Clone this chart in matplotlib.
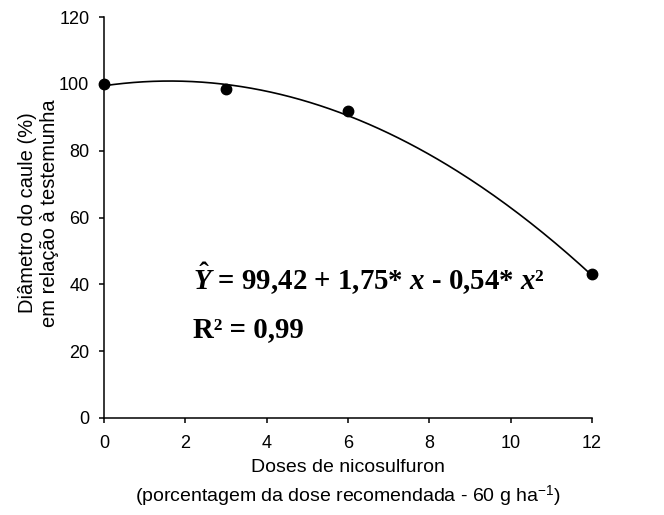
import matplotlib
matplotlib.use('Agg')
import matplotlib.pyplot as plt
import numpy as np

# doses (% of recommended dose) and stem diameter (% of control)
doses = [0, 3, 6, 12]
diameter = [100, 98.5, 92, 43]
coef = [99.42, 1.75, -0.54]

plt.rcParams['font.family'] = ['Liberation Sans', 'DejaVu Sans']
plt.rcParams['mathtext.fontset'] = 'custom'
plt.rcParams['mathtext.rm'] = 'Liberation Serif:bold'
plt.rcParams['mathtext.it'] = 'Liberation Serif:bold:italic'
plt.rcParams['mathtext.bf'] = 'Liberation Serif:bold'
plt.rcParams['mathtext.sf'] = 'Liberation Sans'

W, H = 664, 515
fig = plt.figure(figsize=(W / 100, H / 100), dpi=100)
ax = fig.add_axes([104 / W, 1 - 418 / H, 488 / W, 401 / H])

xs = np.linspace(0, 12, 200)
ys = coef[0] + coef[1] * xs + coef[2] * xs ** 2
ax.plot(xs, ys, color='black', lw=1.2, clip_on=False)
ax.plot(doses, diameter, 'o', color='black', ms=7.5, clip_on=False, zorder=3)

ax.set_xlim(0, 12)
ax.set_ylim(0, 120)
ax.set_xticks(range(0, 13, 2))
ax.set_yticks(range(0, 121, 20))
for s in ['top', 'right']:
    ax.spines[s].set_visible(False)
for s in ['left', 'bottom']:
    ax.spines[s].set_linewidth(1.1)
ax.tick_params(direction='out', length=3.6, width=1.1, labelsize=13)
ax.tick_params(axis='x', pad=9)
ax.tick_params(axis='y', pad=7)

fig.text(38.5 / W, 1 - 213 / H, 'Diâmetro do caule (%)\nem relação à testemunha',
         rotation=90, ha='center', va='center', fontsize=14.5, linespacing=1.15)
fig.text(0.5 * (104 + 592) / W, 1 - 472 / H, 'Doses de nicosulfuron',
         ha='center', va='baseline', fontsize=14)
fig.text(0.5 * (104 + 592) / W, 1 - 502 / H,
         r'(porcentagem da dose recomendada - 60 g ha$^{\mathsf{-1}}$)',
         ha='center', va='baseline', fontsize=14)

ax.text(2.19, 38.3, r'$\hat{Y}$ = 99,42 + 1,75* $x$ - 0,54* $x$²',
        fontsize=20.8, family='Liberation Serif', weight='bold', va='baseline')
ax.text(2.19, 24.2, 'R² = 0,99', fontsize=20.8, family='Liberation Serif',
        weight='bold', va='baseline')

fig.savefig('out.png', dpi=100)
